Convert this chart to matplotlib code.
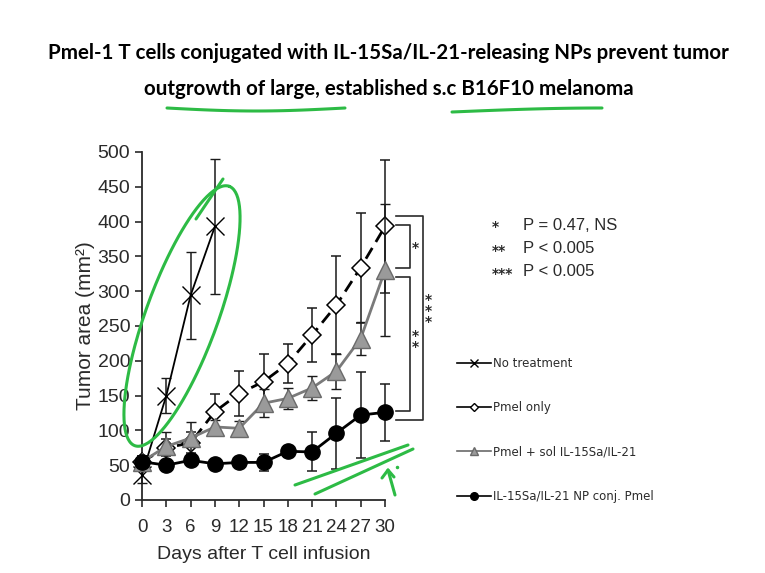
import numpy as np
import matplotlib
matplotlib.use("Agg")
from matplotlib import pyplot as plt
from matplotlib.lines import Line2D

# data
days = [0, 3, 6, 9, 12, 15, 18, 21, 24, 27, 30]
days_untreated = [0, 3, 6, 9]

untreated_mean = [36, 150, 294, 393]
untreated_err = [12, 25, 63, 97]

pmel_mean = [55, 75, 82, 127, 153, 170, 196, 237, 280, 334, 393]
pmel_err = [8, 12, 15, 25, 33, 40, 28, 39, 70, 79, 95]

sol_mean = [55, 77, 89, 105, 103, 139, 146, 161, 185, 232, 330]
sol_err = [8, 21, 23, 10, 10, 20, 15, 17, 25, 24, 95]

np_mean = [55, 50, 57, 52, 54, 54, 70, 69, 96, 122, 126]
np_err = [8, 6, 6, 5, 6, 12, 8, 28, 51, 62, 41]

labels = ["No treatment", "Pmel only", "Pmel + sol IL-15Sa/IL-21",
          "IL-15Sa/IL-21 NP conj. Pmel"]
sig_stars = ["*", "**", "***"]
sig_text = ["P = 0.47, NS", "P < 0.005", "P < 0.005"]

title = ("Pmel-1 T cells conjugated with IL-15Sa/IL-21-releasing NPs prevent tumor\n"
         "outgrowth of large, established s.c B16F10 melanoma")

NARROW = ["Liberation Sans Narrow", "Liberation Sans", "DejaVu Sans"]
W, H = 765, 573
GREEN = "#2dbb45"
INK = "#2a2a2a"


def fx(px):
    return px / W


def fy(py):
    return 1 - py / H


def main():
    fig = plt.figure(figsize=(7.65, 5.73), dpi=100)
    ax = fig.add_axes([fx(142), fy(500), fx(385) - fx(142), fy(152) - fy(500)])

    eb = dict(capsize=3.5, elinewidth=1.1, capthick=1.1, ecolor="#1a1a1a", clip_on=False)

    ax.errorbar(days_untreated, untreated_mean, yerr=untreated_err, color="black",
                lw=1.3, marker="x", ms=13, mew=1.0, zorder=3, **eb)
    ax.errorbar(days, pmel_mean, yerr=pmel_err, color="black", lw=2.0,
                ls=(0, (4.5, 2.5)), marker="D", ms=9.5, mfc="white", mec="black",
                mew=1.1, zorder=4, **eb)
    ax.errorbar(days, sol_mean, yerr=sol_err, color="#7a7a7a", lw=2.0,
                marker="^", ms=13, mfc="#9a9a9a", mec="#6a6a6a", mew=1.0,
                zorder=5, **eb)
    ax.errorbar(days, np_mean, yerr=np_err, color="black", lw=2.0,
                marker="o", ms=11, mfc="black", mec="black", zorder=6, **eb)

    ax.set_xlim(0, 30)
    ax.set_ylim(0, 500)
    ax.set_xticks(days)
    ax.set_yticks(np.arange(0, 501, 50))
    for s in ["top", "right"]:
        ax.spines[s].set_visible(False)
    for s in ["left", "bottom"]:
        ax.spines[s].set_linewidth(1.3)
        ax.spines[s].set_color(INK)
    ax.tick_params(direction="out", length=5, width=1.2, color=INK, labelcolor=INK)
    ax.tick_params(axis="x", pad=9)
    for t in ax.get_yticklabels():
        t.set_fontfamily(NARROW)
        t.set_fontsize(14)
    for t in ax.get_xticklabels():
        t.set_fontfamily(NARROW)
        t.set_fontsize(13.5)
    ax.set_xlabel("Days after T cell infusion", family=NARROW, fontsize=14,
                  color=INK, labelpad=7)
    ax.set_ylabel("Tumor area (mm²)", family=NARROW, fontsize=15, color=INK,
                  labelpad=2)

    # significance brackets on the right of the day-30 points
    def bracket(y0, y1, x0, x1):
        ax.plot([x0, x1, x1, x0], [y0, y0, y1, y1], color=INK, lw=1.2,
                clip_on=False)

    last_p, last_s, last_n = pmel_mean[-1], sol_mean[-1], np_mean[-1]
    bracket(last_p + 2, last_s + 3, 31.4, 33.1)
    bracket(last_s - 9, last_n + 2, 31.4, 33.1)
    bracket(last_p + 15, last_n - 11, 31.4, 34.7)
    star = dict(fontsize=10, ha="center", va="center", color=INK,
                linespacing=0.75, fontweight="bold")
    ax.text(33.75, (last_p + last_s) / 2, "*", **star)
    ax.text(33.75, (last_s + last_n) / 2, "*\n*", **star)
    ax.text(35.35, (last_p + last_n) / 2 + 12, "*\n*\n*", **star)

    # p-value key
    for i, (st, tx) in enumerate(zip(sig_stars, sig_text)):
        y = 225 + i * 23.5
        fig.text(fx(492), fy(y) - 0.004, st, fontsize=10, fontweight="bold",
                 va="center", ha="left", color=INK)
        fig.text(fx(523), fy(y), tx, family=NARROW, fontsize=12, va="center",
                 ha="left", color=INK)

    # legend
    handles = [
        Line2D([], [], color="black", lw=1.2, marker="x", ms=6, mew=1.0),
        Line2D([], [], color="black", lw=1.2, marker="D", ms=4.5, mfc="white", mec="black"),
        Line2D([], [], color="#6a6a6a", lw=1.2, marker="^", ms=6, mfc="#9a9a9a", mec="#6a6a6a"),
        Line2D([], [], color="black", lw=1.2, marker="o", ms=5.5, mfc="black"),
    ]
    fig.legend(handles, labels, loc="upper left", bbox_to_anchor=(fx(457), fy(357)),
               frameon=False, borderpad=0, borderaxespad=0, handlelength=2.9,
               handletextpad=0.15, labelspacing=2.65,
               prop=dict(family="DejaVu Sans", size=8.5), labelcolor="#2b2b2b")

    fig.text(0.508, fy(71), title, ha="center", va="center", family="Lato",
             fontweight="bold", fontsize=14.8, linespacing=2.0, color="black")

    # green hand-drawn marks
    t = np.linspace(0, 2 * np.pi, 200)
    th = np.deg2rad(70)
    a, b, cx, cy = 138, 36, 182, 316
    ex = cx + a * np.cos(t) * np.cos(th) - b * np.sin(t) * np.sin(th)
    ey = cy - (a * np.cos(t) * np.sin(th) + b * np.sin(t) * np.cos(th))
    green = dict(color=GREEN, lw=2.2, solid_capstyle="round",
                 transform=fig.transFigure, zorder=10)
    fig.add_artist(Line2D(fx(ex), fy(ey), **green))
    fig.add_artist(Line2D(fx(np.array([196, 223])), fy(np.array([219, 179])), **green))
    ux = np.linspace(167, 345, 30)
    fig.add_artist(Line2D(fx(ux), fy(108 + 3 * np.sin((ux - 167) / 178 * np.pi)), **green))
    ux = np.linspace(452, 602, 30)
    fig.add_artist(Line2D(fx(ux), fy(112 - 4 * np.sin((ux - 452) / 150 * np.pi / 2)), **green))
    fig.add_artist(Line2D(fx(np.array([295, 408])), fy(np.array([485, 445])), **green))
    fig.add_artist(Line2D(fx(np.array([315, 413])), fy(np.array([494, 449])), **green))
    fig.add_artist(Line2D(fx(np.array([395, 388])), fy(np.array([495, 470])), **green))
    fig.add_artist(Line2D(fx(np.array([382, 388, 394])), fy(np.array([478, 470, 477])), **green))
    fig.add_artist(Line2D([fx(397)], [fy(467)], marker="o", ms=1.5, color=GREEN,
                          transform=fig.transFigure))

    fig.savefig("out.png", dpi=100)


if __name__ == "__main__":
    main()
